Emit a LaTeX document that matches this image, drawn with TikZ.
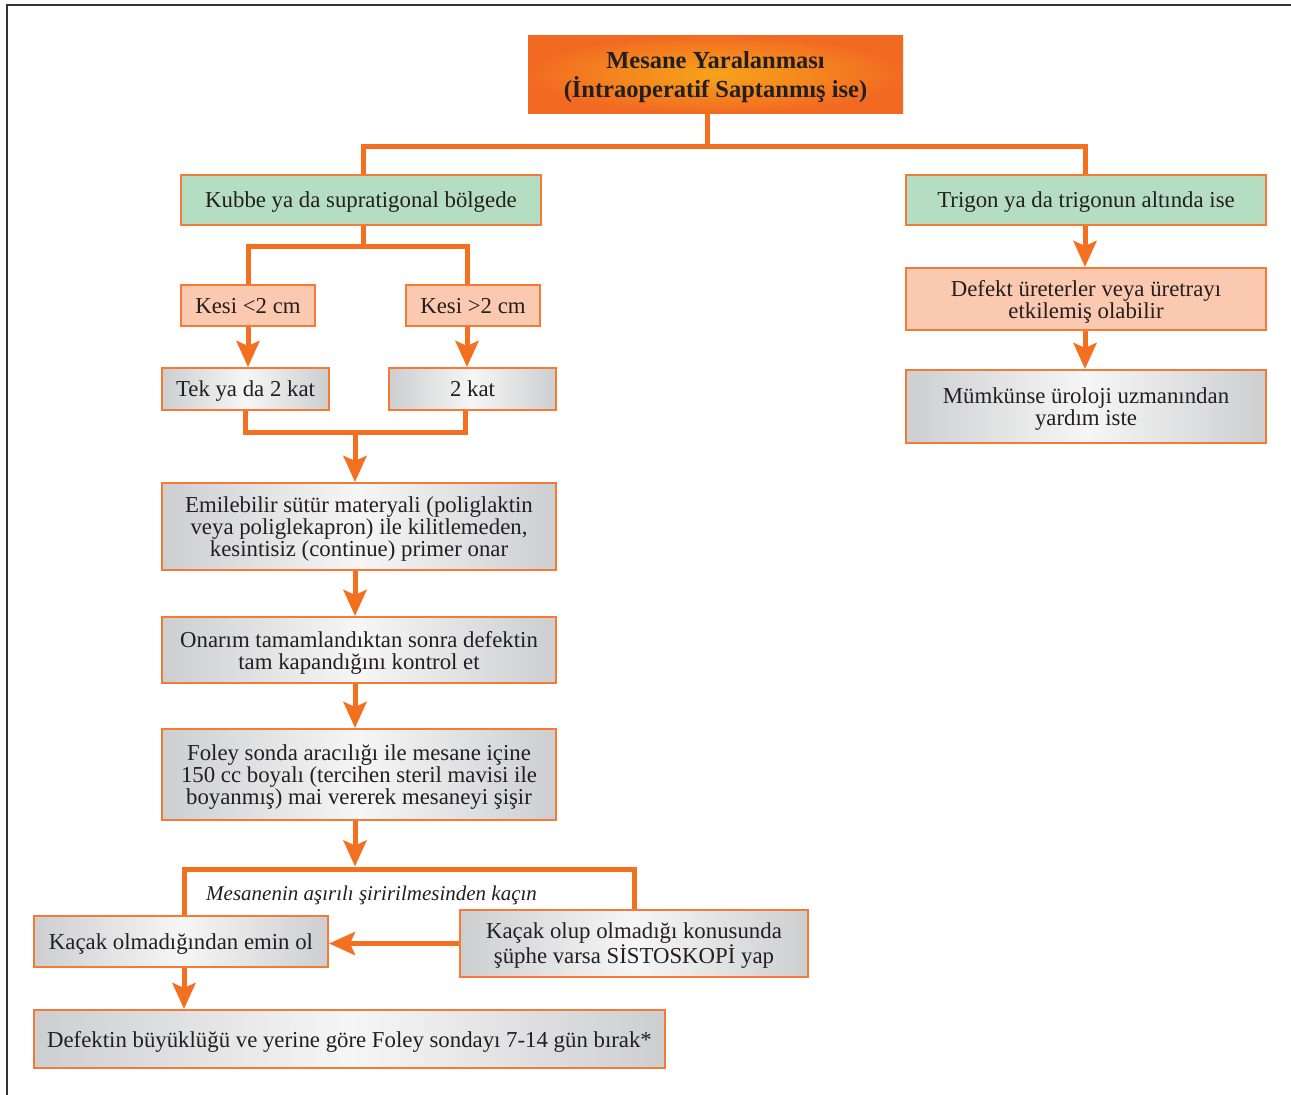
\documentclass[tikz,border=0pt]{standalone}
\usepackage{fontspec}
\setmainfont{Liberation Serif}
\usetikzlibrary{arrows.meta}

\definecolor{lineor}{HTML}{F37021}
\definecolor{edgeor}{HTML}{F47A35}
\definecolor{greenfill}{HTML}{B4DDC2}
\definecolor{salmon}{HTML}{FBC8B0}
\definecolor{grayedge}{HTML}{CDCED0}
\definecolor{graymid}{HTML}{F6F6F6}
\definecolor{ink}{HTML}{231F20}
\definecolor{frameg}{HTML}{333333}
\definecolor{topin}{HTML}{F7A41B}
\definecolor{topout}{HTML}{F26A22}

\begin{document}
\begin{tikzpicture}[x=1pt,y=-1pt,
  every node/.style={text=ink, inner sep=0pt, align=center, text depth=0pt},
  basebox/.style={draw=edgeor, line width=2pt, font=\fontsize{22.8}{22}\selectfont},
  greenbox/.style={basebox, fill=greenfill},
  salmonbox/.style={basebox, fill=salmon},
  graybox/.style={basebox, left color=grayedge, right color=grayedge, middle color=graymid},
  headbox/.style={inner color=topin, outer color=topout, font=\fontsize{24.5}{29}\selectfont\bfseries},
  conn/.style={draw=lineor, line width=5pt, line join=miter},
  arr/.style={conn, -{Stealth[length=26pt,width=23pt,inset=5pt]}}
]
\useasboundingbox (0,0) rectangle (1291,1095);

% outer frame
\draw[frameg, line width=1.6pt] (7,1095) -- (7,5) -- (1291,5);

% boxes
\node[headbox, minimum width=375pt, minimum height=78pt] (top) at (715.5,74)
  {Mesane Yaralanması\\(İntraoperatif Saptanmış ise)};

\node[greenbox, minimum width=360pt, minimum height=50pt] (kubbe) at (361,200)
  {Kubbe ya da supratigonal bölgede};
\node[greenbox, minimum width=360pt, minimum height=50pt] (trigon) at (1086,200)
  {Trigon ya da trigonun altında ise};

\node[salmonbox, minimum width=134pt, minimum height=41pt] (kesiA) at (248,305.5)
  {Kesi <2 cm};
\node[salmonbox, minimum width=134pt, minimum height=41pt] (kesiB) at (473,305.5)
  {Kesi >2 cm};

\node[graybox, minimum width=167pt, minimum height=42pt] (tek) at (245.5,389)
  {Tek ya da 2 kat};
\node[graybox, minimum width=167pt, minimum height=42pt] (iki) at (472.5,389)
  {2 kat};

\node[graybox, minimum width=394pt, minimum height=87pt] (emil) at (359,526.5)
  {Emilebilir sütür materyali (poliglaktin\\veya poliglekapron) ile kilitlemeden,\\kesintisiz (continue) primer onar};
\node[graybox, minimum width=394pt, minimum height=66pt] (onarim) at (359,650)
  {Onarım tamamlandıktan sonra defektin\\tam kapandığını kontrol et};
\node[graybox, minimum width=394pt, minimum height=91pt] (foley) at (359,774.5)
  {Foley sonda aracılığı ile mesane içine\\150 cc boyalı (tercihen steril mavisi ile\\boyanmış) mai vererek mesaneyi şişir};

\node[graybox, minimum width=294pt, minimum height=51pt] (kacakA) at (181,941.5)
  {Kaçak olmadığından emin ol};
\node[graybox, minimum width=348pt, minimum height=67pt, font=\fontsize{22.8}{25}\selectfont] (kacakB) at (634,943.5)
  {Kaçak olup olmadığı konusunda\\şüphe varsa SİSTOSKOPİ yap};
\node[graybox, minimum width=631pt, minimum height=58pt] (defekt) at (349.5,1039)
  {Defektin büyüklüğü ve yerine göre Foley sondayı 7-14 gün bırak*};

\node[salmonbox, minimum width=360pt, minimum height=62pt] (defR) at (1086,299)
  {Defekt üreterler veya üretrayı\\etkilemiş olabilir};
\node[graybox, minimum width=360pt, minimum height=73pt] (mumkun) at (1086,406.5)
  {Mümkünse üroloji uzmanından\\yardım iste};

\node[anchor=west, font=\fontsize{21}{22}\selectfont\itshape] (note) at (206,893)
  {Mesanenin aşırılı şiririlmesinden kaçın};

% junction points of the connectors
\coordinate (jTop) at (707,146);
\coordinate (jKubbe) at (363,246);
\coordinate (xB) at (467,0);
\coordinate (jKat) at (355,432);
\coordinate (xL) at (184,0);
\coordinate (jBar) at (355,869);
\coordinate (xR) at (1085,0);

% top split
\draw[conn] (top.south -| jTop) -- (jTop);
\draw[conn] (kubbe.north -| jKubbe) |- (jTop) -| (trigon.north -| xR);

% size split
\draw[conn] (kubbe.south -| jKubbe) -- (jKubbe);
\draw[conn] (kesiA.north) |- (jKubbe) -| (kesiB.north -| xB);
\draw[arr] (kesiA.south) -- (kesiA.south |- tek.north);
\draw[arr] (kesiB.south -| xB) -- (iki.north -| xB);

% merge into repair steps
\draw[conn] (tek.south) |- (jKat) -| ([xshift=-2pt]iki.south -| xB);
\draw[arr] (jKat) -- (emil.north -| jKat);
\draw[arr] (emil.south -| jKat) -- (onarim.north -| jKat);
\draw[arr] (onarim.south -| jKat) -- (foley.north -| jKat);
\draw[arr] (foley.south -| jKat) -- ([yshift=2.5pt]jBar);

% leak check
\draw[conn] (kacakA.north -| xL) |- (jBar) -| (kacakB.north);
\draw[arr] (kacakB.west) -- (kacakA.east |- kacakB.west);
\draw[arr] (kacakA.south -| xL) -- (defekt.north -| xL);

% trigon branch
\draw[arr] (trigon.south -| xR) -- (defR.north -| xR);
\draw[arr] (defR.south -| xR) -- (mumkun.north -| xR);
\end{tikzpicture}
\end{document}
